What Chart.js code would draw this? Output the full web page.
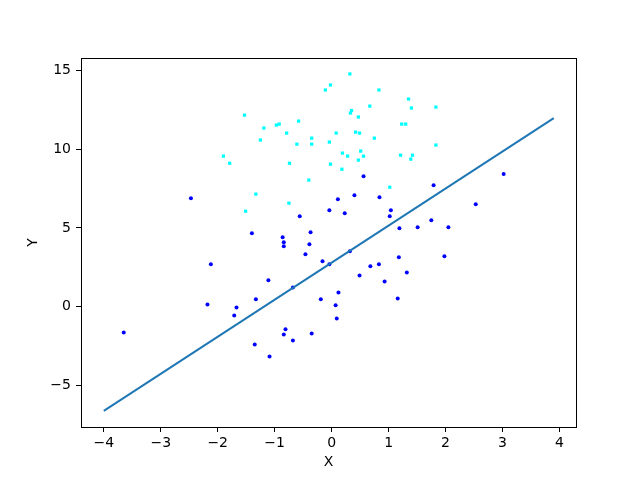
<!DOCTYPE html>
<html>
<head>
<meta charset="utf-8">
<script src="https://cdn.jsdelivr.net/npm/chart.js@4/dist/chart.umd.min.js"></script>
<style>
  html, body { margin: 0; padding: 0; background: #fff; }
</style>
</head>
<body>
<canvas id="chart" width="640" height="480"></canvas>
<script>
// titik biru (x, y)
const blueX = [-2.47, -1.40, -2.12, -3.65, -2.18, -1.67, -1.71, 0.56, 0.40, 0.84,
  0.11, -0.04, 0.23, 1.04, 1.02, -0.56, 1.19, -0.37, -0.86, -0.84,
  -0.84, -0.39, 3.02, 1.79, 2.53, 1.75, 1.51, 2.05, -0.46, -0.16,
  -0.04, 0.32, 1.18, 0.68, 0.83, 1.32, 0.49, 0.93, -1.11, -0.68,
  -1.33, -0.19, 0.12, 0.07, 1.16, 0.09, -0.81, -0.84, -0.68, -0.35,
  -1.35, -1.09, 1.98];
const blueY = [6.88, 4.66, 2.69, -1.63, 0.15, -0.04, -0.55, 8.28, 7.07, 6.95,
  6.82, 6.12, 5.93, 6.12, 5.74, 5.74, 4.98, 4.72, 4.41, 4.09,
  3.83, 3.96, 8.41, 7.71, 6.50, 5.49, 5.04, 5.04, 3.33, 2.88,
  2.69, 3.52, 3.14, 2.57, 2.69, 2.18, 1.99, 1.61, 1.68, 1.23,
  0.47, 0.47, 0.91, 0.09, 0.53, -0.74, -1.43, -1.75, -2.13, -1.69,
  -2.39, -3.15, 3.20];

// titik cyan (x, y)
const cyanX = [0.32, -0.02, -0.11, 0.83, 1.35, 0.67, 0.35, 0.33, 0.47, -1.53,
  -0.58, -1.19, -0.97, -0.92, 1.23, 1.30, -0.79, 0.08, 0.42, 0.49,
  -0.35, 0.75, -1.25, -0.61, -0.35, -0.04, 0.19, 0.28, 0.51, 0.56,
  0.47, 1.21, -0.74, -0.02, 0.18, -0.40, 1.02, -1.33, -0.75, -1.51,
  -1.90, -1.79, 1.40, 1.83, 1.83, 1.42, 1.39];
const cyanY = [14.76, 14.06, 13.74, 13.74, 13.17, 12.72, 12.44, 12.28, 12.03, 12.15,
  11.77, 11.33, 11.52, 11.58, 11.58, 11.58, 11.01, 11.01, 11.07, 11.01,
  10.69, 10.69, 10.57, 10.31, 10.31, 10.44, 9.74, 9.55, 9.87, 9.55,
  9.30, 9.61, 9.10, 9.04, 8.72, 8.03, 7.58, 7.14, 6.57, 6.06,
  9.55, 9.10, 12.60, 12.66, 10.25, 9.61, 9.36];

// garis
const lineX = [-4.0, 3.9];
const lineY = [-6.6, 11.96];

const xTicks = [-4, -3, -2, -1, 0, 1, 2, 3, 4];
const yTicks = [-5, 0, 5, 10, 15];

const toPts = (xs, ys) => xs.map((x, i) => ({ x: x, y: ys[i] }));
const minus = v => String(v).replace('-', '\u2212');

// kotak di sekeliling area plot
const frame = {
  id: 'frame',
  afterDraw(chart) {
    const a = chart.chartArea;
    const c = chart.ctx;
    c.save();
    c.strokeStyle = '#000';
    c.lineWidth = 1;
    c.strokeRect(Math.round(a.left) + 0.5, Math.round(a.top) + 0.5,
      Math.round(a.right - a.left), Math.round(a.bottom - a.top));
    c.restore();
  }
};

const font = { family: 'DejaVu Sans', size: 14 };

new Chart(document.getElementById('chart'), {
  type: 'scatter',
  data: {
    datasets: [
      {
        type: 'line',
        data: toPts(lineX, lineY),
        showLine: true,
        borderColor: '#1f77b4',
        borderWidth: 2,
        pointRadius: 0,
        fill: false
      },
      {
        data: toPts(blueX, blueY),
        backgroundColor: '#0000ff',
        borderColor: '#0000ff',
        borderWidth: 0,
        pointRadius: 2,
        pointStyle: 'circle'
      },
      {
        data: toPts(cyanX, cyanY),
        backgroundColor: '#00ffff',
        borderColor: '#00ffff',
        borderWidth: 0,
        pointRadius: 2.3,
        pointStyle: 'rect'
      }
    ]
  },
  options: {
    responsive: false,
    animation: false,
    devicePixelRatio: 1,
    layout: { padding: { left: 0, right: 64, top: 58, bottom: 0 } },
    plugins: { legend: { display: false }, tooltip: { enabled: false } },
    scales: {
      x: {
        type: 'linear',
        min: -4.4,
        max: 4.29,
        afterFit: s => { s.height = 53; },
        afterBuildTicks: s => { s.ticks = xTicks.map(v => ({ value: v })); },
        ticks: { includeBounds: false, color: '#000', font: font, padding: 3, maxRotation: 0,
          callback: v => minus(v) },
        grid: { drawOnChartArea: false, tickLength: 5, tickColor: '#000' },
        border: { display: false },
        title: { display: true, text: 'X', color: '#000', font: font, padding: { top: 0, bottom: 9 } }
      },
      y: {
        type: 'linear',
        min: -7.62,
        max: 15.77,
        afterFit: s => { s.width = 81; },
        afterBuildTicks: s => { s.ticks = yTicks.map(v => ({ value: v })); },
        ticks: { includeBounds: false, color: '#000', font: font, padding: 5,
          callback: v => minus(v) },
        grid: { drawOnChartArea: false, tickLength: 5, tickColor: '#000' },
        border: { display: false },
        title: { display: true, text: 'Y', color: '#000', font: font, padding: { top: 25, bottom: 0 } }
      }
    }
  },
  plugins: [frame]
});
</script>
</body>
</html>
